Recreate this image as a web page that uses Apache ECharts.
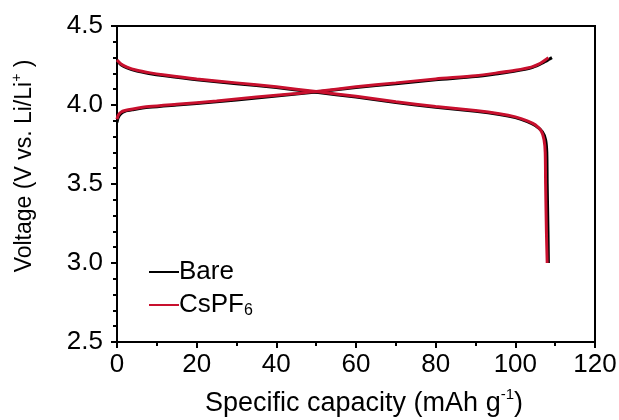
<!DOCTYPE html>
<html><head><meta charset="utf-8">
<script src="https://cdn.jsdelivr.net/npm/echarts@6/dist/echarts.min.js"></script>
<style>html,body{margin:0;padding:0;background:#fff}#c{width:619px;height:420px}</style>
</head><body><div id="c"></div>
<script>
// Bare - charge
const bareChargeX = [0, 0.3, 1, 2, 4, 8, 15, 25, 35, 45, 50, 60, 70, 80, 90, 96, 100, 104, 106, 107.5, 108.5, 109.2];
const bareChargeV = [3.89, 3.92, 3.945, 3.96, 3.97, 3.985, 4.0, 4.02, 4.045, 4.07, 4.082, 4.11, 4.135, 4.16, 4.18, 4.2, 4.215, 4.235, 4.255, 4.275, 4.29, 4.30];
// Bare - discharge
const bareDischargeX = [0, 1, 2.5, 5, 8, 12, 20, 30, 40, 50, 60, 70, 80, 90, 96, 100, 103, 105, 106.8, 107.6, 107.9, 108.0, 108.2, 108.3];
const bareDischargeV = [4.28, 4.255, 4.235, 4.215, 4.2, 4.185, 4.16, 4.135, 4.11, 4.08, 4.05, 4.015, 3.985, 3.96, 3.94, 3.92, 3.895, 3.87, 3.83, 3.78, 3.7, 3.5, 3.2, 3.0];
// CsPF6 - charge
const cspfChargeX = [0, 0.3, 1, 2, 4, 8, 15, 25, 35, 45, 50, 60, 70, 80, 90, 96, 100, 104, 106, 107.5, 108.3];
const cspfChargeV = [3.91, 3.935, 3.955, 3.965, 3.975, 3.99, 4.005, 4.025, 4.05, 4.073, 4.085, 4.115, 4.14, 4.165, 4.185, 4.205, 4.22, 4.24, 4.26, 4.285, 4.30];
// CsPF6 - discharge
const cspfDischargeX = [0, 1, 2.5, 5, 8, 12, 20, 30, 40, 50, 60, 70, 80, 90, 96, 100, 103, 105, 106.5, 107.2, 107.5, 107.6, 107.8, 108];
const cspfDischargeV = [4.285, 4.26, 4.24, 4.22, 4.205, 4.19, 4.165, 4.14, 4.115, 4.085, 4.055, 4.02, 3.99, 3.965, 3.945, 3.925, 3.9, 3.875, 3.835, 3.78, 3.7, 3.5, 3.2, 3.0];

const seriesNames = ['Bare', 'CsPF6'];
const xTicks = [0, 20, 40, 60, 80, 100, 120];
const yTicks = [2.5, 3.0, 3.5, 4.0, 4.5];

const zip = (xs, ys) => xs.map((x, i) => [x, ys[i]]);
const FONT = 'Liberation Sans';
const BLACK = '#000000', RED = '#c8102e';

function line(name, data, color) {
  return { name, type: 'line', data, showSymbol: false, symbol: 'none', smooth: 0.25,
    lineStyle: { color, width: 3 }, itemStyle: { color }, z: name === 'Bare' ? 2 : 3, animation: false };
}

const chart = echarts.init(document.getElementById('c'), null, { renderer: 'canvas' });
chart.setOption({
  backgroundColor: '#fff',
  animation: false,
  grid: { left: 117, top: 26, right: 24, bottom: 78, show: true, borderColor: '#000', borderWidth: 2,
          containLabel: false, outerBoundsMode: 'none' },
  legend: {
    orient: 'vertical', left: 144, top: 254, itemGap: 7, itemWidth: 30, itemHeight: 2,
    icon: 'rect',
    data: [
      { name: seriesNames[0], itemStyle: { color: BLACK } },
      { name: seriesNames[1], itemStyle: { color: RED } }
    ],
    formatter: n => n === 'CsPF6' ? '{a|CsPF}{s|6}' : '{a|' + n + '}',
    textStyle: { fontFamily: FONT, color: '#000', padding: [0, 0, 0, -5],
      rich: { a: { fontFamily: FONT, fontSize: 26, color: '#000', lineHeight: 28 },
              s: { fontFamily: FONT, fontSize: 16, color: '#000', lineHeight: 16, verticalAlign: 'bottom' } } }
  },
  xAxis: {
    type: 'value', min: 0, max: 120, interval: 20,
    name: '{a|Specific capacity (mAh g}{s|-1}{a|)}', nameLocation: 'middle', nameGap: 45,
    nameTextStyle: { padding: [0, 0, 0, 16],
                     rich: { a: { fontFamily: FONT, fontSize: 27, color: '#000', lineHeight: 34 },
                             s: { fontFamily: FONT, fontSize: 15, color: '#000', lineHeight: 14, verticalAlign: 'top' } } },
    axisLine: { lineStyle: { color: '#000', width: 2 } },
    axisTick: { show: true, inside: false, length: 6, lineStyle: { color: '#000', width: 2 } },
    minorTick: { show: true, splitNumber: 2, length: 4, lineStyle: { color: '#000', width: 2 } },
    splitLine: { show: false },
    axisLabel: { fontFamily: FONT, fontSize: 26, color: '#000', margin: 10 }
  },
  yAxis: {
    type: 'value', min: 2.5, max: 4.5, interval: 0.5,
    name: '{a|Voltage (V vs. Li/Li}{s|+}{a| )}', nameLocation: 'middle', nameGap: 77, nameRotate: 90,
    nameTextStyle: { padding: [0, 0, 0, 36],
                     rich: { a: { fontFamily: FONT, fontSize: 23, color: '#000', lineHeight: 30 },
                             s: { fontFamily: FONT, fontSize: 14, color: '#000', lineHeight: 13, verticalAlign: 'top' } } },
    axisLine: { lineStyle: { color: '#000', width: 2 } },
    axisTick: { show: true, inside: false, length: 6, lineStyle: { color: '#000', width: 2 } },
    minorTick: { show: true, splitNumber: 5, length: 4, lineStyle: { color: '#000', width: 2 } },
    splitLine: { show: false },
    axisLabel: { fontFamily: FONT, fontSize: 26, color: '#000', margin: 14, formatter: v => v.toFixed(1) }
  },
  series: [
    line('Bare', zip(bareChargeX, bareChargeV), BLACK),
    line('Bare', zip(bareDischargeX, bareDischargeV), BLACK),
    line('CsPF6', zip(cspfChargeX, cspfChargeV), RED),
    line('CsPF6', zip(cspfDischargeX, cspfDischargeV), RED)
  ]
});
</script></body></html>
